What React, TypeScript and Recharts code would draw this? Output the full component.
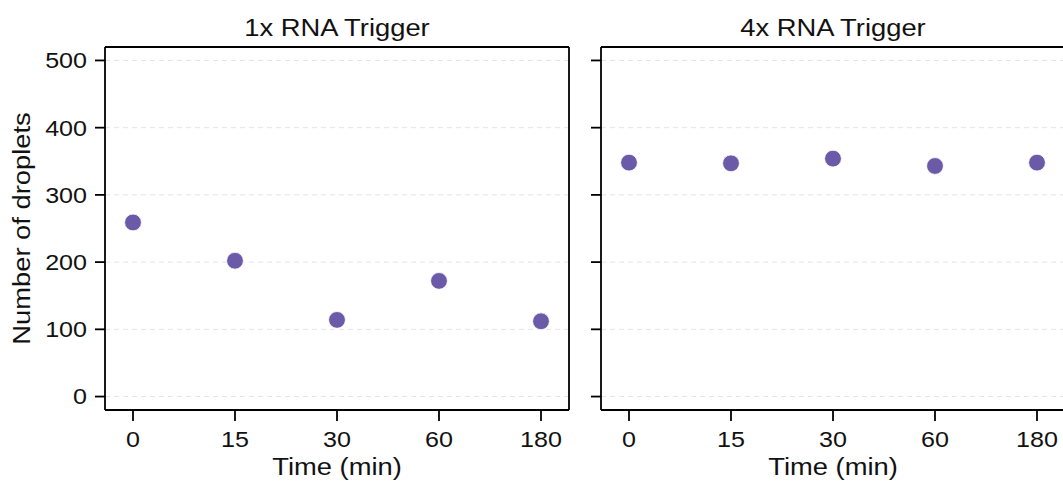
import { CartesianGrid, Scatter, ScatterChart, XAxis, YAxis } from "recharts";

const timePoints = ["0", "15", "30", "60", "180"];
const trigger1x = [259, 202, 114, 172, 112];
const trigger4x = [348, 347, 354, 343, 348];
const yTicks = [0, 100, 200, 300, 400, 500];

const panels = [
  { title: "1x RNA Trigger", values: trigger1x, left: 0, showYLabels: true },
  { title: "4x RNA Trigger", values: trigger4x, left: 496, showYLabels: false },
];

const FONT = "'Liberation Sans', Arial, sans-serif";
const STRETCH = 1.14; // reference text is a bit wider than plain Arial
const DOT = "#6a5aa8";
const FRAME = { stroke: "#000", strokeWidth: 1.8 };

// eslint-disable-next-line @typescript-eslint/no-explicit-any
function XTick({ x, y, payload }: any) {
  return (
    <g transform={`translate(${x},${y}) scale(${STRETCH},1)`}>
      <text x={0} y={0} dy="0.71em" textAnchor="middle" fontSize={22} fontFamily={FONT} fill="#111">
        {payload.value}
      </text>
    </g>
  );
}

// eslint-disable-next-line @typescript-eslint/no-explicit-any
function YTick({ x, y, payload }: any) {
  return (
    <g transform={`translate(${x},${y}) scale(${STRETCH},1)`}>
      <text x={0} y={0} dy="0.36em" textAnchor="end" fontSize={22} fontFamily={FONT} fill="#111">
        {payload.value}
      </text>
    </g>
  );
}

function NoTick() {
  return <g />;
}

function Panel({
  title,
  values,
  left,
  showYLabels,
}: {
  title: string;
  values: number[];
  left: number;
  showYLabels: boolean;
}) {
  const data = timePoints.map((t, i) => ({ time: t, count: values[i] }));

  return (
    <div style={{ position: "absolute", left, top: 0 }}>
      <ScatterChart width={600} height={486} margin={{ top: 46, right: 30, bottom: 0, left: 45 }}>
        <CartesianGrid
          horizontal
          vertical={false}
          stroke="#e4e4e4"
          strokeDasharray="5 4"
          yAxisId="left"
        />
        <XAxis
          dataKey="time"
          type="category"
          scale="point"
          allowDuplicatedCategory={false}
          padding={{ left: 28, right: 28 }}
          height={76}
          axisLine={FRAME}
          tickLine={FRAME}
          tickSize={11}
          tickMargin={10}
          tick={<XTick />}
          interval={0}
          label={{
            // eslint-disable-next-line @typescript-eslint/no-explicit-any
            content: ({ viewBox }: any) => (
              <g transform={`translate(${viewBox.x + viewBox.width / 2},${viewBox.y + 65}) scale(${STRETCH},1)`}>
                <text textAnchor="middle" fontSize={24} fontFamily={FONT} fill="#111">
                  Time (min)
                </text>
              </g>
            ),
          }}
        />
        <XAxis
          xAxisId="top"
          dataKey="time"
          type="category"
          scale="point"
          allowDuplicatedCategory={false}
          padding={{ left: 28, right: 28 }}
          orientation="top"
          height={1}
          tick={false}
          tickLine={false}
          axisLine={FRAME}
          label={{
            // eslint-disable-next-line @typescript-eslint/no-explicit-any
            content: ({ viewBox }: any) => (
              <g transform={`translate(${viewBox.x + viewBox.width / 2},${viewBox.y - 10}) scale(${STRETCH},1)`}>
                <text textAnchor="middle" fontSize={24} fontFamily={FONT} fill="#111">
                  {title}
                </text>
              </g>
            ),
          }}
        />
        <YAxis
          yAxisId="left"
          dataKey="count"
          type="number"
          domain={[-20, 520]}
          ticks={yTicks}
          width={60}
          axisLine={FRAME}
          tickLine={FRAME}
          tickSize={10}
          tickMargin={8}
          tick={showYLabels ? <YTick /> : <NoTick />}
          label={
            showYLabels
              ? {
                  // eslint-disable-next-line @typescript-eslint/no-explicit-any
                  content: ({ viewBox }: any) => (
                    <g
                      transform={`translate(${viewBox.x - 15},${viewBox.y + viewBox.height / 2}) rotate(-90) scale(${STRETCH},1)`}
                    >
                      <text textAnchor="middle" fontSize={24} fontFamily={FONT} fill="#111">
                        Number of droplets
                      </text>
                    </g>
                  ),
                }
              : undefined
          }
        />
        <YAxis
          yAxisId="right"
          dataKey="count"
          orientation="right"
          type="number"
          domain={[-20, 520]}
          width={1}
          tick={false}
          tickLine={false}
          axisLine={FRAME}
        />
        {/* invisible series so the top/right frame axes get rendered */}
        <Scatter
          data={data}
          dataKey="count"
          xAxisId="top"
          yAxisId="right"
          isAnimationActive={false}
          shape={() => <g />}
        />
        <Scatter
          data={data}
          dataKey="count"
          yAxisId="left"
          isAnimationActive={false}
          // eslint-disable-next-line @typescript-eslint/no-explicit-any
          shape={(p: any) => <circle cx={p.cx} cy={p.cy} r={8.4} fill={DOT} stroke="#fff" strokeWidth={0.8} />}
        />
      </ScatterChart>
    </div>
  );
}

export default function App() {
  return (
    <div
      style={{
        position: "fixed",
        left: 0,
        top: 0,
        width: 1063,
        height: 486,
        overflow: "hidden",
        background: "#fff",
      }}
    >
      {panels.map((p) => (
        <Panel key={p.title} {...p} />
      ))}
    </div>
  );
}
